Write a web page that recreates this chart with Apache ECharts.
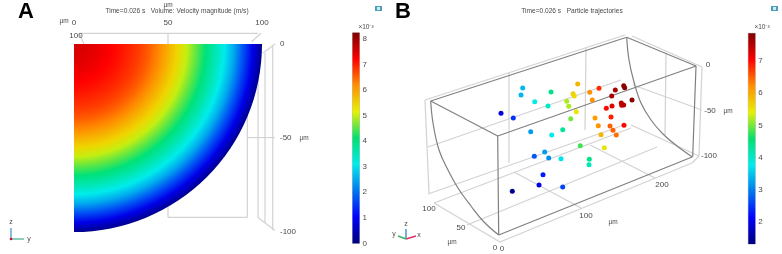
<!DOCTYPE html>
<html><head><meta charset="utf-8">
<style>html,body{margin:0;padding:0;background:#fff}#c{width:782px;height:254px;filter:blur(0.6px)}</style>
<script src="https://cdn.jsdelivr.net/npm/echarts@6/dist/echarts.min.js"></script>
</head><body><div id="c"></div>
<script>
// ---- DATA ----
const titleA = 'Time=0.026 s   Volume: Velocity magnitude (m/s)';
const titleB = 'Time=0.026 s   Particle trajectories';
const panelLetters = ['A', 'B'];
const colorbarExponent = '×10⁻³';

// Panel A: velocity (×10⁻³ m/s) against radius (µm) in the channel section
const ringRadius = [0,5,10,15,20,25,30,35,40,45,50,55,60,65,70,75,80,85,90,95,100];
const ringVelocity = [7.55,7.52,7.45,7.35,7.22,7.1,6.95,6.78,6.55,6.25,5.85,5.45,5.0,4.55,4.05,3.6,3.1,2.5,1.72,0.85,0.12];

// Panel A: light wire-frame behind the section, µm (y1, z1, y2, z2)
const frameA = [
  [2.7,5.7,97.9,5.7],[2.7,5.7,5.3,0],[94.5,1.2,99.5,5.7],
  [50,5.7,50,-92.5],[50,-92.5,92.2,-92.5],[92.2,-30,92.2,-92.5],
  [92.2,-49.9,106.9,-49.9],
  [97.9,-15,97.9,-92.5],[101.6,-4.8,101.6,-95],[105.7,-1,105.7,-99],
  [100.5,-4.8,106.9,0],[97.9,-92.5,106.9,-99.5]
];

// Panel B: particles as projected on the view plane
const particleSx = [522.7,521,534.7,551,548,501,513.3,577.7,573,574.3,566.7,568.7,576.3,570.7,589.7,599,592.3,615.3,623.7,624.7,611.7,632,621.3,621.7,623.7,612,606.3,611,595,598.3,610,624,613,601,616.3,530.7,551.7,562.7,580.3,604.3,544.7,534.3,548.7,561,589.3,589,543,539,562.7,512.3];
const particleSy = [88,95,101.7,92,106,113.3,118,84,93.7,96,101.3,106.3,111.7,118.7,92.3,88.3,100,90,85.7,87.7,96,100,103,105.3,105,106,108.3,117,118,125.7,126,125.3,130.3,134.7,135,131.7,135,129.7,145.7,147.7,152,156.3,158,158.7,159.3,164.7,174.7,185,187,191.3];
const particleV  = [3.4,3.4,3.8,4.4,4,1.9,2.5,5.9,5.7,5.6,5.2,5.2,5.5,5,6.2,6.8,6.2,7.6,7.8,7.8,7.6,7.8,7.5,7.4,7.5,7.2,7,6.9,6.1,6.2,6.5,7,6.5,5.9,6.4,3.2,3.8,4.3,4.8,5.5,3.2,2.7,3.1,3.7,4.4,4.1,2.3,2,2.6,1.4];

// Panel B: projected wire-frame (sx1, sy1, sx2, sy2)
const boxLight = [
  [425,100,625,35],[425,100,429,193],[632,36,702,67],[702,67,699,156],
  [428,147,621,80],[428,194,624,125],[434,203,631,128],[467,225,657,147],[500,242,692,163],
  [434,203,500,242],[514,172,581,208],[590,145,655,178],
  [509,72,509,163],[586,47,585,130],[666,53,665,135],
  [633,85,702,110],[631,125,699,156],[692,163,699,156]
];
const boxDark = [
  [430.7,101,626.7,37.3],[626.7,37.3,696,66],[696,66,497.7,136],[497.7,136,430.7,101],
  [497.7,136,498.7,235],[498.7,235,692.7,156.7],[696,66,692.7,156.7]
];
const arcNearSx = [430.7,433,439,448,458,471,484,498.7];
const arcNearSy = [101,123,150,170,188,206,222,235];
const arcFarSx = [626.7,629,634,641,651,663,677,692];
const arcFarSy = [37.3,60,82,103,120,134,146,156.7];

// Tick labels
const unit = 'µm';
const tickA_x = ['100'];
const tickB_z = ['0','-50','-100'];
const tickB_x = ['100','200'];
const tickB_y = ['0','50','100'];
const tickB_xzero = '0';
const colorTicksA = [0,1,2,3,4,5,6,7,8];
const colorTicksB = [2,3,4,5,6,7];
const colorRangeA = [0,8.25];
const colorRangeB = [1.32,7.86];

// ---- STYLE ----
const palette = ['#00007f','#0000ff','#0078f0','#00ecec','#00e070','#e8f000','#ff9000','#ff0000','#800000'];
const FONT = '"Liberation Sans", Arial, sans-serif';
const TXT = '#4a4a4a', LIGHT = '#d2d2d2', DARK = '#808080';

const t = (text, x, y, o) => ({type:'text', x, y, silent:true, z:50, style:Object.assign({
  text, fill:TXT, font:'8px '+FONT, textAlign:'center', textVerticalAlign:'middle'}, o||{})});
const seg = (x1,y1,x2,y2,stroke,w) => ({type:'line', silent:true, z:50, shape:{x1,y1,x2,y2}, style:{stroke, lineWidth:w||1.2}});

const graphics = [
  t(panelLetters[0],26,12,{font:'bold 22px '+FONT,fill:'#000'}),
  t(panelLetters[1],403,12,{font:'bold 22px '+FONT,fill:'#000'}),
  t(titleA,177,11.5,{font:'6.6px '+FONT}),
  t(titleB,572,11.5,{font:'6.6px '+FONT}),
  t(unit,168,5.5,{font:'6.5px '+FONT}),
  t(unit,64,21,{font:'6.5px '+FONT}),
  t(tickA_x[0],76,36),
  t(unit,304,138,{font:'6.5px '+FONT}),
  t(colorbarExponent,366,27,{font:'6.5px '+FONT}),
  t(colorbarExponent,762,27,{font:'6.5px '+FONT}),
  t(tickB_z[0],708,65), t(tickB_z[1],710,111), t(tickB_z[2],709,156), t(unit,728,111,{font:'6.5px '+FONT}),
  t(tickB_x[0],586,216), t(tickB_x[1],662,185), t(unit,613,222,{font:'6.5px '+FONT}),
  t(tickB_xzero,502,249), t(tickB_y[0],495,248), t(tickB_y[1],461,228), t(tickB_y[2],429,209), t(unit,452,242,{font:'6.5px '+FONT}),
  // orientation triads
  seg(11,239,11,228,'#3d8fc4',1.2), seg(11,239,24,239,'#3cb08a',1.2),
  {type:'circle',silent:true,z:51,shape:{cx:11,cy:239,r:1.3},style:{fill:'#c8103c'}},
  t('z',11,222,{font:'7px '+FONT}), t('y',29,239,{font:'7px '+FONT}),
  seg(406,239,406,229,'#3d8fc4',1.4), seg(406,239,416,236,'#e0306a',1.4), seg(406,239,398,236,'#3cb060',1.4),
  t('z',406,224,{font:'7px '+FONT}), t('x',419,235,{font:'7px '+FONT}), t('y',394,234,{font:'7px '+FONT}),
  // window icons
  {type:'rect',silent:true,z:51,shape:{x:375,y:6,width:7,height:5},style:{fill:'#4a9cc0'}},
  {type:'rect',silent:true,z:52,shape:{x:377,y:7,width:3,height:3},style:{fill:'#cfeee0'}},
  {type:'rect',silent:true,z:51,shape:{x:771,y:6,width:7,height:5},style:{fill:'#4a9cc0'}},
  {type:'rect',silent:true,z:52,shape:{x:773,y:7,width:3,height:3},style:{fill:'#cfeee0'}}
];

// palette lookup for a velocity inside a colour range
const colorOf = (v, range) => echarts.color.lerp((v-range[0])/(range[1]-range[0]), palette);

const segmentRender = (stroke) => (params, api) => {
  const a = api.coord([api.value(0),api.value(1)]), b = api.coord([api.value(2),api.value(3)]);
  return {type:'line', shape:{x1:a[0],y1:a[1],x2:b[0],y2:b[1]}, style:{stroke, lineWidth:1.2, fill:null}};
};
const segSeries = (data, stroke, xi, z) => ({type:'custom', coordinateSystem:'cartesian2d', xAxisIndex:xi, yAxisIndex:xi,
  silent:true, z, clip:false, animation:false, data, renderItem:segmentRender(stroke), encode:{x:[0,2],y:[1,3]}});
const barGradient = () => new echarts.graphic.LinearGradient(0,1,0,0,
  palette.map((color,i)=>({offset:i/(palette.length-1),color})));

const colorYAxis = (gi, range, ticks) => ({
  type:'value', gridIndex:gi, position:'right', min:range[0], max:range[1], splitLine:{show:false},
  axisLine:{show:false},
  axisTick:{show:true, inside:true, length:7, lineStyle:{color:'rgba(50,50,50,.25)',width:1}, customValues:ticks},
  axisLabel:{show:true, color:TXT, fontSize:8, fontFamily:FONT, margin:3, customValues:ticks}
});
const barCat = (gi) => ({type:'category', gridIndex:gi, data:[''], show:false});

const option = {
  animation:false,
  backgroundColor:'#fff',
  graphic:graphics,
  grid:[
    {left:74, top:44, width:188, height:187.5},
    {left:352.5, top:32.7, width:7, height:210.6, show:true, borderColor:'#999', borderWidth:0.6},
    {left:748.3, top:33.3, width:7, height:210.7, show:true, borderColor:'#999', borderWidth:0.6},
    {left:391, top:0, width:391, height:254}
  ],
  xAxis:[
    {type:'value', gridIndex:0, position:'top', min:0, max:100, interval:50, splitLine:{show:false},
      axisLine:{show:false}, axisTick:{show:false},
      axisLabel:{color:TXT, fontSize:8, fontFamily:FONT, margin:17, showMinLabel:true, showMaxLabel:true}},
    barCat(1), barCat(2),
    {type:'value', gridIndex:3, min:391, max:782, show:false}
  ],
  yAxis:[
    {type:'value', gridIndex:0, position:'right', min:-100, max:0, interval:50, splitLine:{show:false},
      axisLine:{show:false}, axisTick:{show:false},
      axisLabel:{color:TXT, fontSize:8, fontFamily:FONT, margin:18, showMinLabel:true, showMaxLabel:true}},
    colorYAxis(1, colorRangeA, colorTicksA),
    colorYAxis(2, colorRangeB, colorTicksB),
    {type:'value', gridIndex:3, min:0, max:254, inverse:true, show:false}
  ],
  visualMap:[
    {type:'continuous', show:false, min:colorRangeB[0], max:colorRangeB[1], dimension:2, seriesIndex:2, inRange:{color:palette}}
  ],
  series:[
    segSeries(frameA, LIGHT, 0, 1),
    {type:'custom', coordinateSystem:'cartesian2d', xAxisIndex:0, yAxisIndex:0, silent:true, z:2, clip:false, animation:false,
      data:[[0,0,100]], encode:{x:[0,2],y:1},
      renderItem:(params, api)=>{
        const c = api.coord([api.value(0),api.value(1)]), e = api.coord([api.value(2),api.value(1)]);
        const R = e[0]-c[0];
        const stops = ringRadius.map((rad,i)=>({offset:rad/api.value(2), color:colorOf(ringVelocity[i], colorRangeA)}));
        return {type:'sector', shape:{cx:c[0], cy:c[1], r0:0, r:R, startAngle:0, endAngle:Math.PI/2, clockwise:true},
          style:{fill:new echarts.graphic.RadialGradient(c[0],c[1],R,stops,true)}};
      }},
    {type:'scatter', coordinateSystem:'cartesian2d', xAxisIndex:3, yAxisIndex:3, silent:true, z:6, symbolSize:5, animation:false,
      data:particleSx.map((x,i)=>[x,particleSy[i],particleV[i]]), itemStyle:{opacity:1}},
    segSeries(boxLight, LIGHT, 3, 3),
    segSeries(boxDark, DARK, 3, 5),
    {type:'line', xAxisIndex:3, yAxisIndex:3, silent:true, z:5, smooth:0.4, showSymbol:false, animation:false,
      lineStyle:{color:DARK, width:1.2}, data:arcNearSx.map((x,i)=>[x,arcNearSy[i]])},
    {type:'line', xAxisIndex:3, yAxisIndex:3, silent:true, z:5, smooth:0.4, showSymbol:false, animation:false,
      lineStyle:{color:DARK, width:1.2}, data:arcFarSx.map((x,i)=>[x,arcFarSy[i]])},
    {type:'bar', xAxisIndex:1, yAxisIndex:1, silent:true, barWidth:'100%', animation:false, z:3,
      data:[{value:colorRangeA[1], itemStyle:{color:barGradient()}}]},
    {type:'bar', xAxisIndex:2, yAxisIndex:2, silent:true, barWidth:'100%', animation:false, z:3,
      data:[{value:colorRangeB[1], itemStyle:{color:barGradient()}}]}
  ]
};
const chart = echarts.init(document.getElementById('c'), null, {renderer:'canvas'});
chart.setOption(option);
</script></body></html>
